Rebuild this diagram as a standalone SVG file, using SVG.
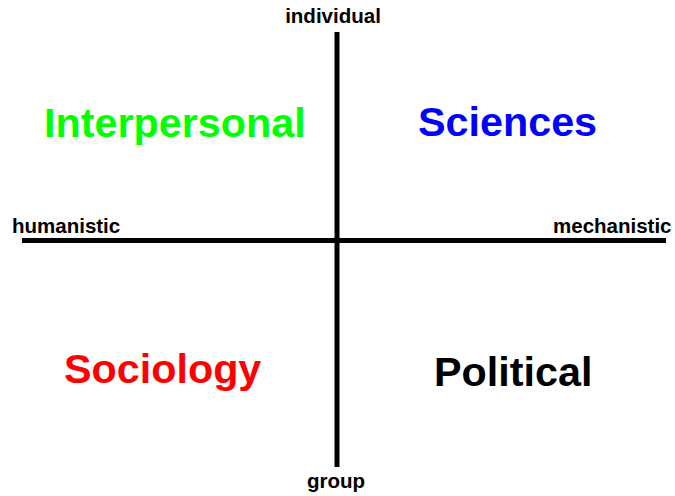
<svg xmlns="http://www.w3.org/2000/svg" width="675" height="496" viewBox="0 0 675 496">
<style>
.axis{stroke:#000;stroke-width:5;fill:none}
.lbl{font-family:"Liberation Sans",Arial,sans-serif;font-weight:bold;font-size:20.5px;fill:#000}
.big{font-family:"Liberation Sans",Arial,sans-serif;font-weight:bold;font-size:41.3px}
</style>
<rect width="675" height="496" fill="#fff"/>
<g id="connectors">
<line class="axis" x1="337" y1="32" x2="337" y2="467"/>
<line class="axis" x1="22" y1="240.5" x2="666" y2="240.5"/>
</g>
<g id="individual"><text class="lbl" x="333" y="23" text-anchor="middle">individual</text></g>
<g id="humanistic"><text class="lbl" x="12" y="233">humanistic</text></g>
<g id="mechanistic"><text class="lbl" x="553" y="233">mechanistic</text></g>
<g id="group"><text class="lbl" x="336" y="488" text-anchor="middle">group</text></g>
<g id="interpersonal"><text class="big" x="44" y="137" fill="#00ff00">Interpersonal</text></g>
<g id="sciences"><text class="big" x="418" y="136" fill="#0000ff">Sciences</text></g>
<g id="sociology"><text class="big" x="64" y="383" fill="#ff0000">Sociology</text></g>
<g id="political"><text class="big" x="434" y="386" fill="#000">Political</text></g>
</svg>
